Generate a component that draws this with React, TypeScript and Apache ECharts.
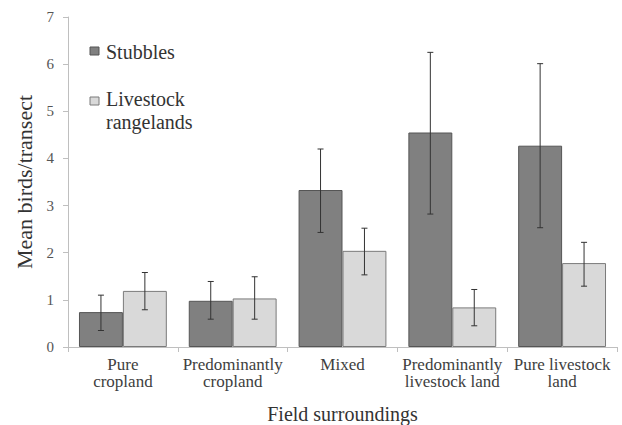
import React, { useEffect, useRef } from "react";
import * as echarts from "echarts";

const categories = [
  "Pure\ncropland",
  "Predominantly\ncropland",
  "Mixed",
  "Predominantly\nlivestock land",
  "Pure livestock\nland",
];
const stubbles = [0.74, 0.98, 3.33, 4.55, 4.27];
const stubblesLow = [0.35, 0.59, 2.43, 2.82, 2.53];
const stubblesHigh = [1.1, 1.39, 4.2, 6.25, 6.01];
const livestock = [1.19, 1.03, 2.04, 0.84, 1.78];
const livestockLow = [0.79, 0.59, 1.53, 0.45, 1.29];
const livestockHigh = [1.58, 1.49, 2.52, 1.22, 2.22];
const yTicks = [0, 1, 2, 3, 4, 5, 6, 7];

const FONT = "Liberation Serif";
const DARK = "#808080";
const LIGHT = "#d9d9d9";

export default function App() {
  const ref = useRef<HTMLDivElement>(null);
  useEffect(() => {
    document.body.style.margin = "0";
    const chart = echarts.init(ref.current!, null, { renderer: "svg" });
    const errData: number[][] = [];
    categories.forEach((_, i) => {
      errData.push([i, stubblesLow[i], stubblesHigh[i], -1]);
      errData.push([i, livestockLow[i], livestockHigh[i], 1]);
    });
    const legendText = (text: string, y: number) => ({
      type: "text",
      x: 106,
      y,
      style: { text, fontFamily: FONT, fontSize: 20, fill: "#333", verticalAlign: "middle" },
    });
    chart.setOption({
      animation: false,
      grid: {
        left: 68,
        right: 5,
        top: 17,
        bottom: 78,
        containLabel: false,
        outerBoundsMode: "none",
      },
      xAxis: {
        type: "category",
        data: categories,
        name: "Field surroundings",
        nameLocation: "middle",
        nameGap: 57,
        nameTextStyle: { fontFamily: FONT, fontSize: 20, color: "#333" },
        axisLine: { lineStyle: { color: "#bfbfbf", width: 1 } },
        axisTick: { show: true, length: 5, interval: 0, lineStyle: { color: "#bfbfbf" } },
        axisLabel: {
          interval: 0,
          fontFamily: FONT,
          fontSize: 17,
          color: "#404040",
          margin: 9,
        },
      },
      yAxis: {
        type: "value",
        min: yTicks[0],
        max: yTicks[yTicks.length - 1],
        interval: 1,
        name: "Mean birds/transect",
        nameLocation: "middle",
        nameGap: 33,
        nameRotate: 90,
        nameTextStyle: { fontFamily: FONT, fontSize: 22, color: "#333" },
        axisLine: { show: true, lineStyle: { color: "#bfbfbf", width: 1 } },
        axisTick: { show: true, length: 5, lineStyle: { color: "#bfbfbf" } },
        splitLine: { show: false },
        axisLabel: { fontFamily: FONT, fontSize: 15, color: "#555", margin: 14 },
      },
      series: [
        {
          name: "Stubbles",
          type: "bar",
          data: stubbles,
          barGap: "0%",
          barCategoryGap: "20%",
          itemStyle: { color: DARK, borderColor: "#555", borderWidth: 1 },
        },
        {
          name: "Livestock rangelands",
          type: "bar",
          data: livestock,
          barGap: "0%",
          barCategoryGap: "20%",
          itemStyle: { color: LIGHT, borderColor: "#7a7a7a", borderWidth: 1 },
        },
        {
          type: "custom",
          data: errData,
          z: 10,
          renderItem: (params: any, api: any) => {
            const x = api.value(0);
            const lo = api.coord([x, api.value(1)]);
            const hi = api.coord([x, api.value(2)]);
            const band = api.size([1, 0])[0];
            const cx = lo[0] + api.value(3) * band * 0.2;
            const cap = 3;
            const style = { stroke: "#333", lineWidth: 1 };
            return {
              type: "group",
              children: [
                { type: "line", shape: { x1: cx, y1: lo[1], x2: cx, y2: hi[1] }, style },
                { type: "line", shape: { x1: cx - cap, y1: lo[1], x2: cx + cap, y2: lo[1] }, style },
                { type: "line", shape: { x1: cx - cap, y1: hi[1], x2: cx + cap, y2: hi[1] }, style },
              ],
            };
          },
        },
      ],
      graphic: [
        {
          type: "rect",
          shape: { x: 90, y: 47, width: 9, height: 8 },
          style: { fill: DARK, stroke: "#555", lineWidth: 1 },
        },
        legendText("Stubbles", 52),
        {
          type: "rect",
          shape: { x: 90, y: 97, width: 9, height: 8 },
          style: { fill: LIGHT, stroke: "#7a7a7a", lineWidth: 1 },
        },
        legendText("Livestock", 99),
        legendText("rangelands", 122),
      ],
    });
    return () => chart.dispose();
  }, []);
  return <div ref={ref} style={{ width: 622, height: 425 }} />;
}
